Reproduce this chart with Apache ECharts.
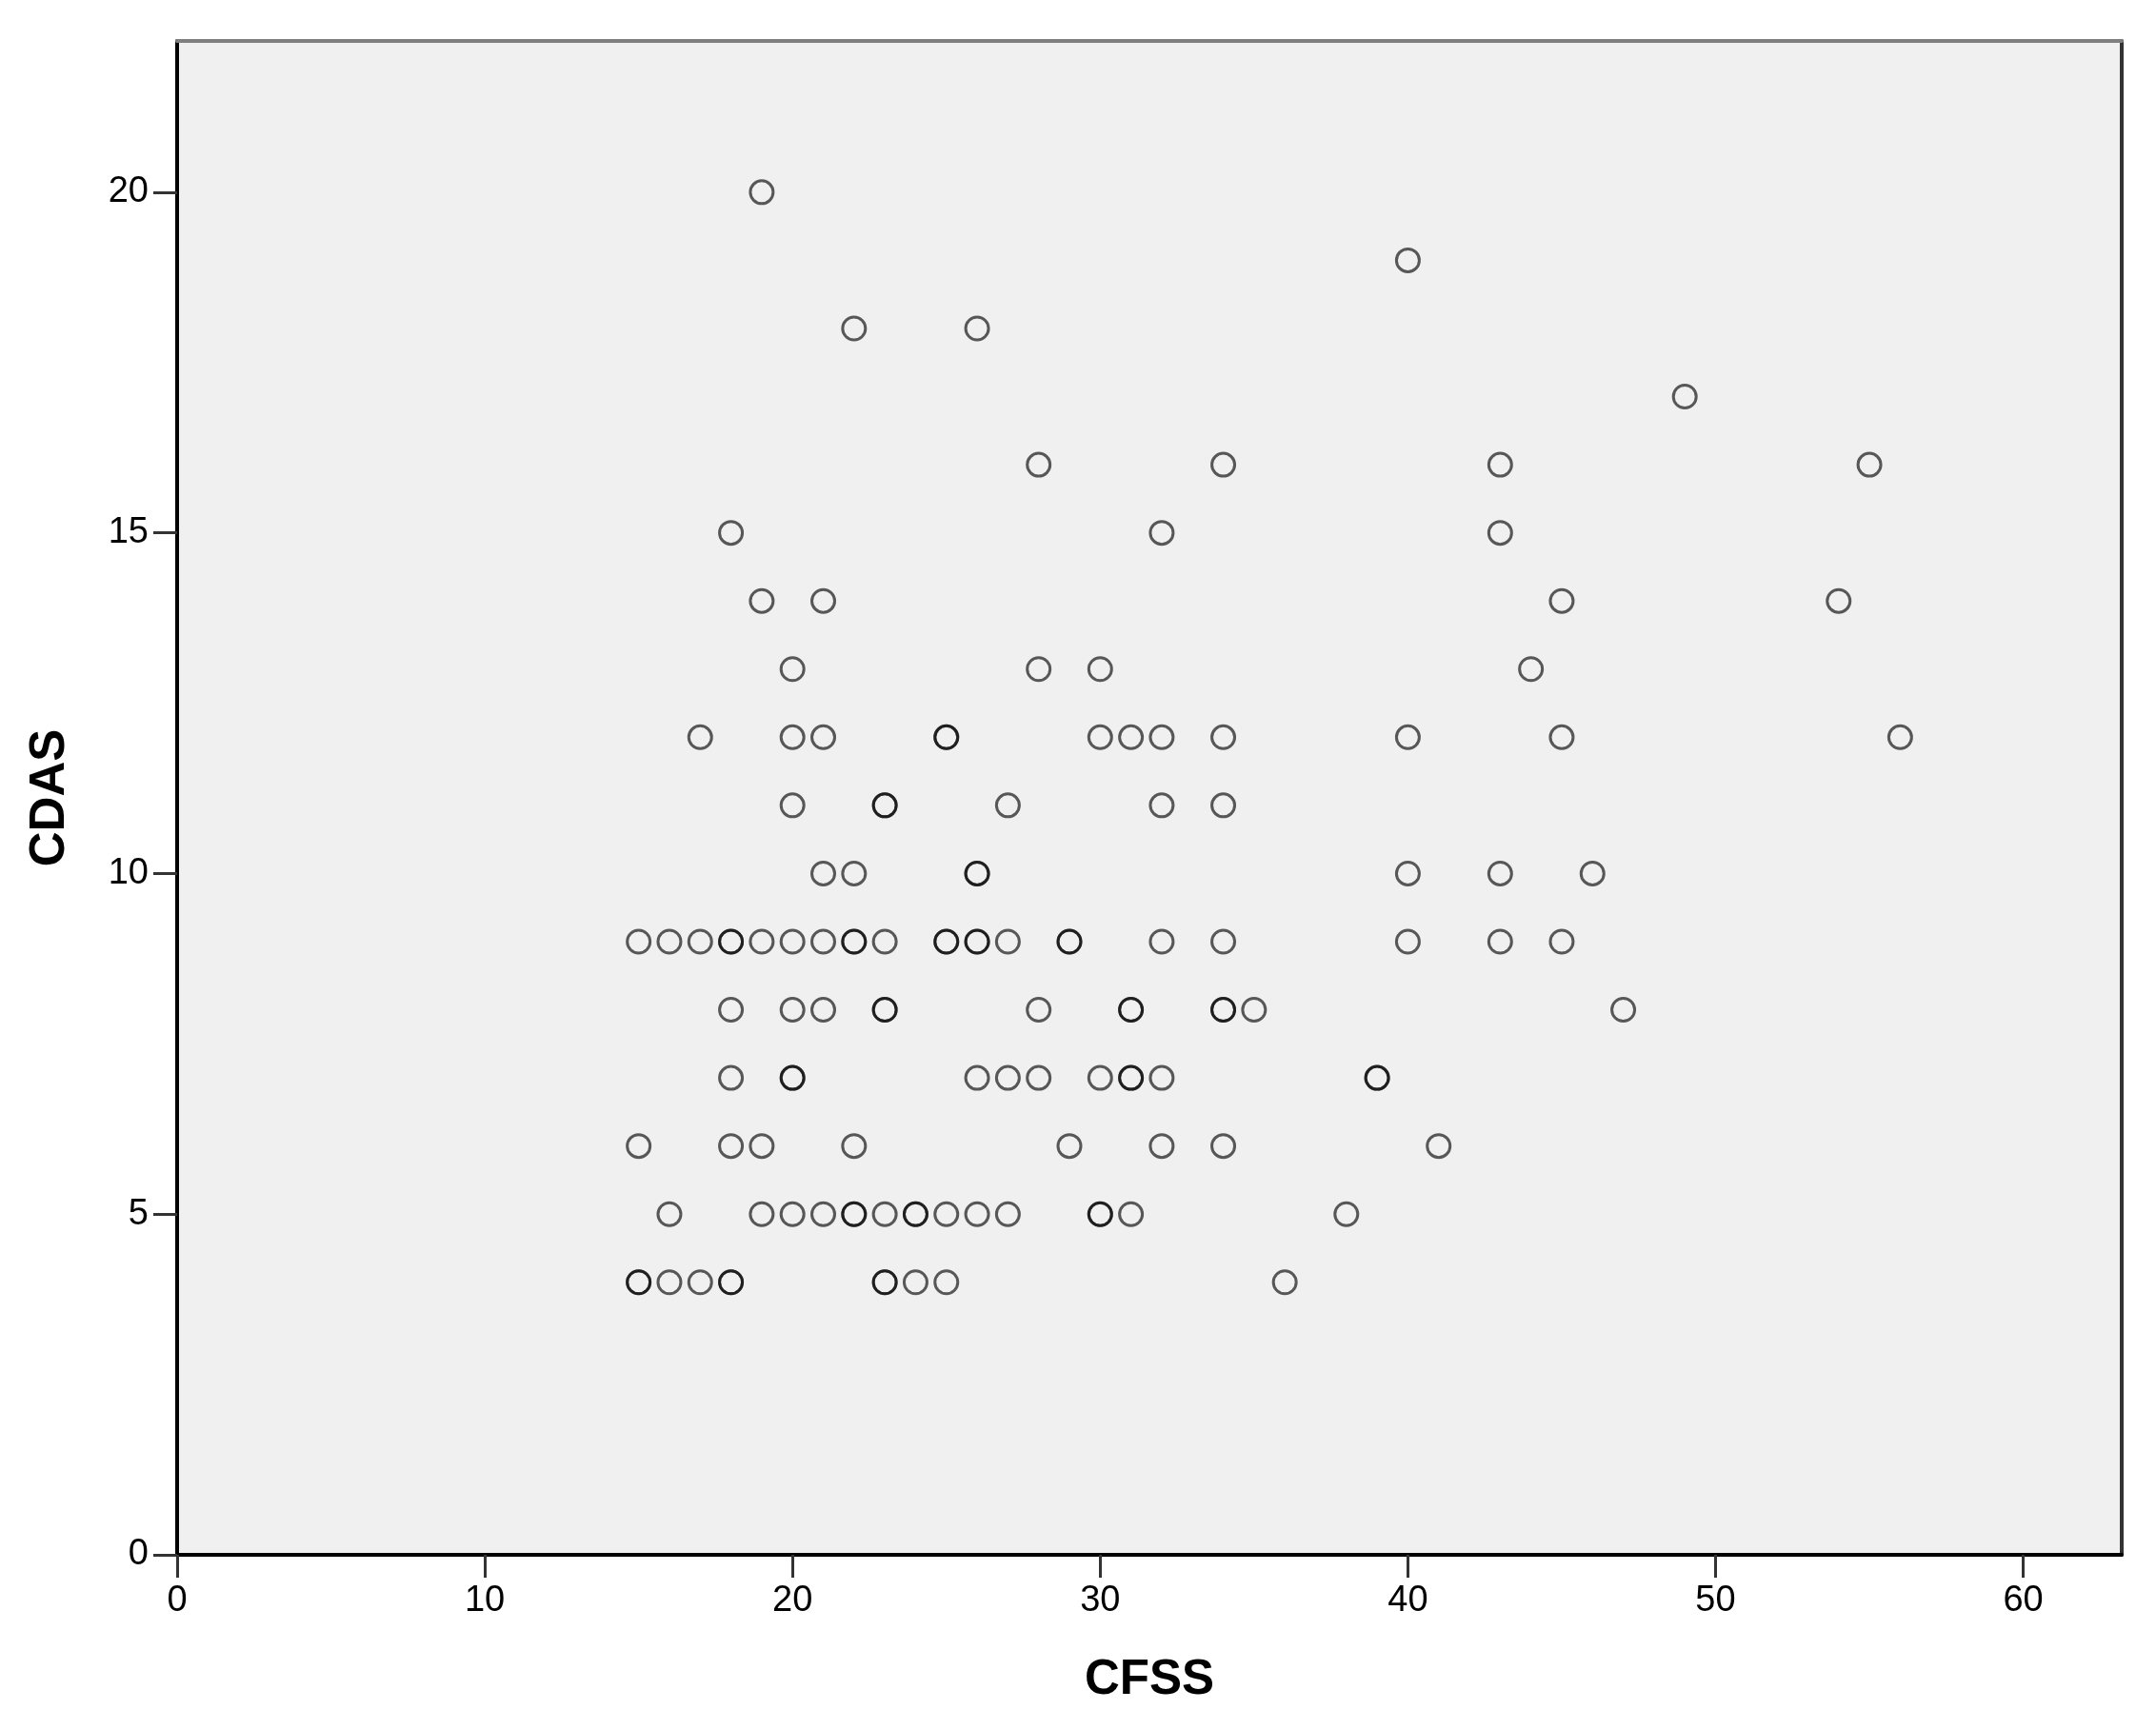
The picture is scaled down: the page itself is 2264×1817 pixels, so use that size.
<!DOCTYPE html>
<html>
<head>
<meta charset="utf-8">
<script src="https://cdn.jsdelivr.net/npm/echarts@6/dist/echarts.min.js"></script>
<style>
  html, body { margin: 0; padding: 0; background: #ffffff; }
  #chart { width: 2264px; height: 1817px; }
</style>
</head>
<body>
<div id="chart"></div>
<script>
// CFSS (x) and CDAS (y) for each respondent; repeated pairs are kept as repeats
const cfss = [
  19,
  40,
  22, 26,
  49,
  28, 34, 43, 55,
  18, 32, 43,
  19, 21, 45, 54,
  20, 28, 30, 44,
  17, 20, 21, 25, 25, 30, 31, 32, 34, 40, 45, 56,
  20, 23, 23, 27, 32, 34,
  21, 22, 26, 26, 40, 43, 46,
  15, 16, 17, 18, 18, 19, 20, 21, 22, 22, 23, 25, 25, 26, 26, 27, 29, 29, 32, 34, 40, 43, 45,
  18, 20, 21, 23, 23, 28, 31, 31, 34, 34, 35, 47,
  18, 20, 20, 26, 27, 28, 30, 31, 31, 32, 39, 39,
  15, 18, 19, 22, 29, 32, 34, 41,
  16, 19, 20, 21, 22, 22, 23, 24, 24, 25, 26, 27, 30, 30, 31, 38,
  15, 15, 16, 17, 18, 18, 23, 23, 24, 25, 36
]
const cdas = [
  20,
  19,
  18, 18,
  17,
  16, 16, 16, 16,
  15, 15, 15,
  14, 14, 14, 14,
  13, 13, 13, 13,
  12, 12, 12, 12, 12, 12, 12, 12, 12, 12, 12, 12,
  11, 11, 11, 11, 11, 11,
  10, 10, 10, 10, 10, 10, 10,
  9, 9, 9, 9, 9, 9, 9, 9, 9, 9, 9, 9, 9, 9, 9, 9, 9, 9, 9, 9, 9, 9, 9,
  8, 8, 8, 8, 8, 8, 8, 8, 8, 8, 8, 8,
  7, 7, 7, 7, 7, 7, 7, 7, 7, 7, 7, 7,
  6, 6, 6, 6, 6, 6, 6, 6,
  5, 5, 5, 5, 5, 5, 5, 5, 5, 5, 5, 5, 5, 5, 5, 5,
  4, 4, 4, 4, 4, 4, 4, 4, 4, 4, 4
]
const xTicks = [0, 10, 20, 30, 40, 50, 60]
const yTicks = [0, 5, 10, 15, 20]

const points = cfss.map((x, i) => [x, cdas[i]])

const chart = echarts.init(document.getElementById('chart'))
const labelFont = 'Liberation Sans, Arial, sans-serif'

chart.setOption({
  animation: false,
  backgroundColor: '#ffffff',
  grid: {
    left: 186,
    right: 36,
    top: 43,
    bottom: 184,
    show: true,
    backgroundColor: '#f0f0f0',
    borderWidth: 0,
  },
  xAxis: [
    {
      type: 'value',
      min: 0,
      max: 63.2,
      name: 'CFSS',
      nameLocation: 'middle',
      nameGap: 106,
      nameTextStyle: {
        fontFamily: labelFont,
        fontWeight: 'bold',
        fontSize: 51,
        color: '#000',
      },
      axisLine: { show: true, onZero: false, lineStyle: { color: '#000', width: 4 } },
      axisTick: {
        show: true,
        length: 24,
        customValues: xTicks,
        lineStyle: { color: '#333', width: 3 },
      },
      axisLabel: {
        customValues: xTicks,
        margin: 30,
        fontFamily: labelFont,
        fontSize: 38,
        color: '#000',
      },
      splitLine: { show: false },
    },
    {
      type: 'value',
      position: 'top',
      min: 0,
      max: 63.2,
      axisLine: { show: true, onZero: false, lineStyle: { color: '#7f7f7f', width: 4 } },
      axisTick: { show: false },
      axisLabel: { show: false },
      splitLine: { show: false },
    },
  ],
  yAxis: [
    {
      type: 'value',
      min: 0,
      max: 22.22,
      name: 'CDAS',
      nameLocation: 'middle',
      nameGap: 108,
      nameTextStyle: {
        fontFamily: labelFont,
        fontWeight: 'bold',
        fontSize: 51,
        color: '#000',
      },
      axisLine: { show: true, onZero: false, lineStyle: { color: '#000', width: 4 } },
      axisTick: {
        show: true,
        length: 25,
        customValues: yTicks,
        lineStyle: { color: '#333', width: 3 },
      },
      axisLabel: {
        customValues: yTicks,
        margin: 30,
        fontFamily: labelFont,
        fontSize: 38,
        color: '#000',
      },
      splitLine: { show: false },
    },
    {
      type: 'value',
      position: 'right',
      min: 0,
      max: 22.22,
      axisLine: { show: true, onZero: false, lineStyle: { color: '#333', width: 4 } },
      axisTick: { show: false },
      axisLabel: { show: false },
      splitLine: { show: false },
    },
  ],
  series: [
    {
      type: 'scatter',
      data: points,
      symbol: 'circle',
      symbolSize: 24,
      silent: true,
      itemStyle: {
        color: 'rgba(0,0,0,0)',
        borderColor: 'rgba(0,0,0,0.8)',
        borderWidth: 3,
      },
    },
  ],
})
</script>
</body>
</html>
